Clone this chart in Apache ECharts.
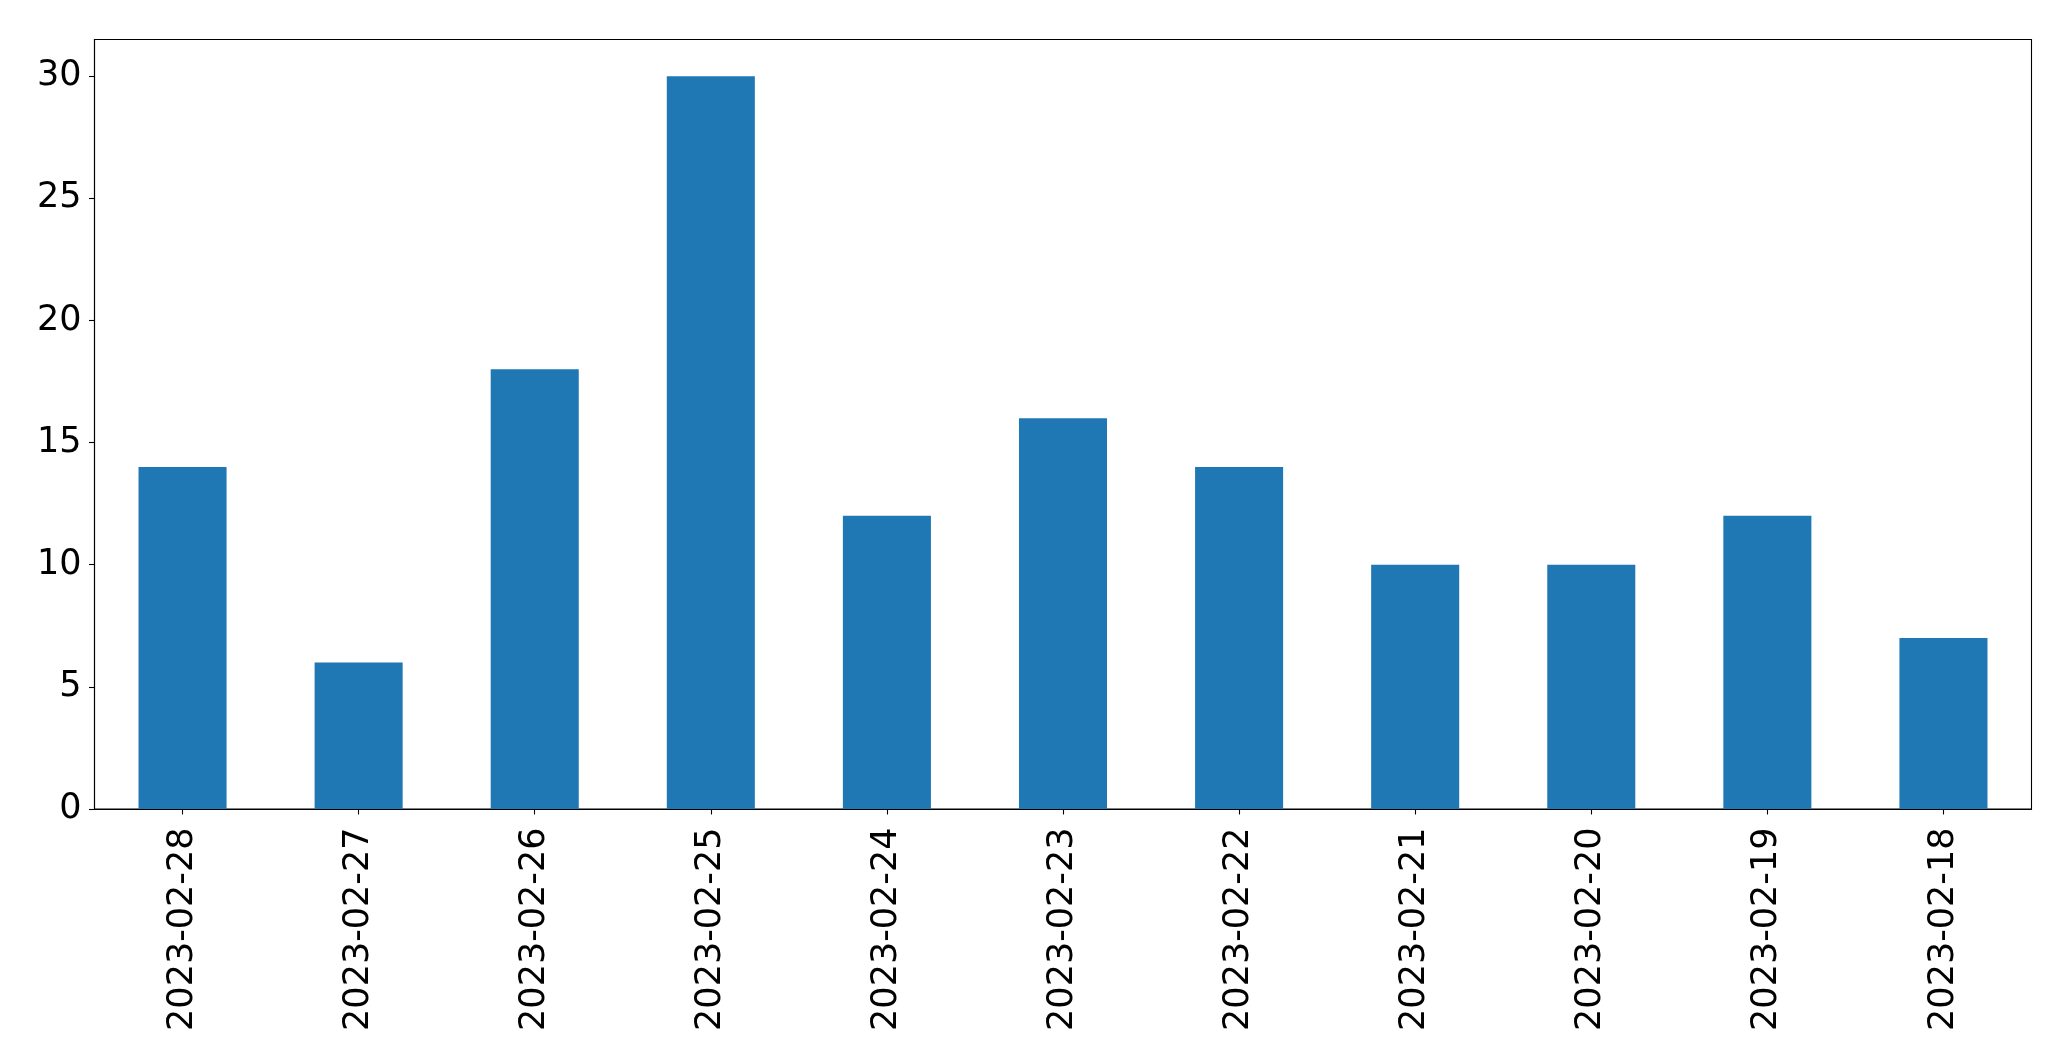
<!DOCTYPE html>
<html>
<head>
<meta charset="utf-8">
<script src="https://cdn.jsdelivr.net/npm/echarts@6/dist/echarts.min.js"></script>
<style>
html,body{margin:0;padding:0;background:#fff;}
#chart{width:2071px;height:1061px;}
</style>
</head>
<body>
<div id="chart"></div>
<script>
const categories = ["2023-02-28","2023-02-27","2023-02-26","2023-02-25","2023-02-24","2023-02-23","2023-02-22","2023-02-21","2023-02-20","2023-02-19","2023-02-18"];
const values = [14, 6, 18, 30, 12, 16, 14, 10, 10, 12, 7];
const yTicks = [0, 5, 10, 15, 20, 25, 30];

const FONT = "DejaVu Sans";
const chart = echarts.init(document.getElementById('chart'), null, {renderer: 'canvas'});
chart.setOption({
  animation: false,
  backgroundColor: '#ffffff',
  grid: {
    left: 94.5, right: 39.5, top: 39.5, bottom: 252,
    show: true, borderColor: '#000', borderWidth: 1.1, backgroundColor: 'transparent'
  },
  xAxis: {
    type: 'category',
    data: categories,
    axisLine: {show: true, lineStyle: {color: '#000', width: 1.1}},
    axisTick: {show: true, alignWithLabel: true, length: 5.5, lineStyle: {color: '#000', width: 1.1}},
    axisLabel: {rotate: 90, margin: 18.5, color: '#000', fontSize: 35, fontFamily: FONT, interval: 0},
    splitLine: {show: false}
  },
  yAxis: {
    type: 'value',
    min: 0, max: 31.5, interval: 5,
    axisLine: {show: true, lineStyle: {color: '#000', width: 1.1}},
    axisTick: {show: true, length: 5.5, customValues: yTicks, lineStyle: {color: '#000', width: 1.1}},
    axisLabel: {margin: 13, color: '#000', fontSize: 35, fontFamily: FONT, customValues: yTicks},
    splitLine: {show: false}
  },
  series: [{
    type: 'bar',
    data: values,
    barWidth: '50%',
    itemStyle: {color: '#1f77b4'}
  }]
});
</script>
</body>
</html>
